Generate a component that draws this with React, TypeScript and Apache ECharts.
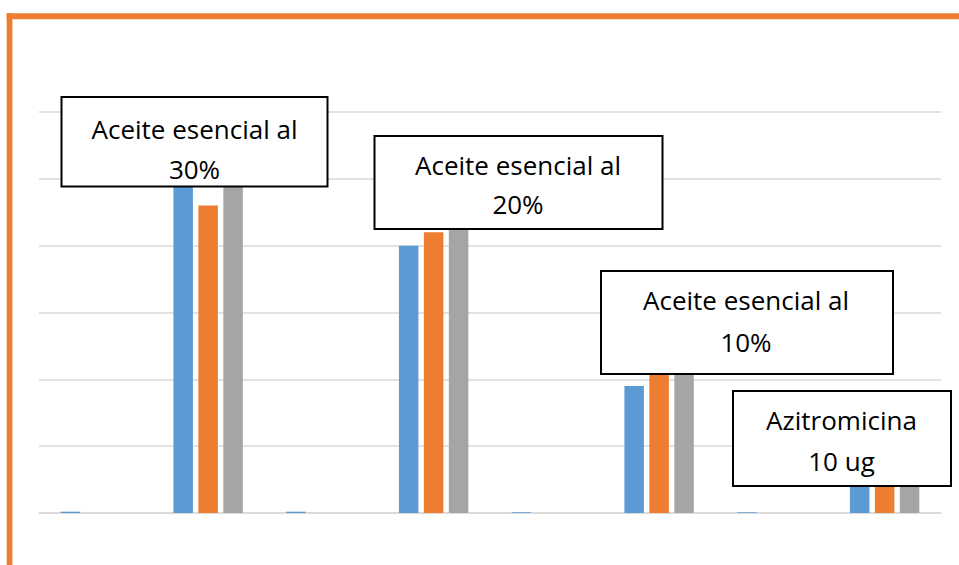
import React, { useEffect, useRef } from "react";
import * as echarts from "echarts";

// Inhibition readings per treatment, three replicates each
const categories = [
  "Control 1",
  "Aceite esencial al\n30%",
  "Control 2",
  "Aceite esencial al\n20%",
  "Control 3",
  "Aceite esencial al\n10%",
  "Control 4",
  "Azitromicina\n10 ug",
];
const seriesNames = ["Repetición 1", "Repetición 2", "Repetición 3"];
const rep1 = [0.1, 24.6, 0.1, 20.0, 0.05, 9.5, 0.05, 2.6];
const rep2 = [0, 23.0, 0, 21.0, 0, 10.5, 0, 2.8];
const rep3 = [0, 25.0, 0, 22.0, 0, 10.5, 0, 2.8];
const colors = ["#5B9BD5", "#ED7D31", "#A5A5A5"];

// Callout boxes placed over the labelled groups (index into categories)
const callouts = [
  { cat: 1, box: [61.5, 97, 266, 89.5], cx: 194.5, lines: [129, 169] },
  { cat: 3, box: [374.5, 136, 288, 93], cx: 518, lines: [164.5, 204] },
  { cat: 5, box: [601, 271, 292, 103], cx: 746, lines: [300, 341.5] },
  { cat: 7, box: [733, 391, 218, 95], cx: 841.5, lines: [420, 461] },
];

export default function App() {
  const ref = useRef<HTMLDivElement>(null);

  useEffect(() => {
    if (!ref.current) return;
    const chart = echarts.init(ref.current, undefined, { renderer: "svg" });

    const graphic: any[] = [
      // orange frame edges
      {
        type: "rect",
        shape: { x: 6.7, y: 13.3, width: 960, height: 6 },
        style: { fill: "#ED7D31" },
        z: 10,
      },
      {
        type: "rect",
        shape: { x: 6.7, y: 13.3, width: 5.7, height: 560 },
        style: { fill: "#ED7D31" },
        z: 10,
      },
    ];

    callouts.forEach((c) => {
      const [x, y, w, h] = c.box;
      const textLines = categories[c.cat].split("\n");
      graphic.push({
        type: "rect",
        shape: { x, y, width: w, height: h },
        style: { fill: "#FFFFFF", stroke: "#000000", lineWidth: 2 },
        z: 20,
      });
      textLines.forEach((t, i) => {
        graphic.push({
          type: "text",
          x: c.cx,
          y: c.lines[i],
          style: {
            text: t,
            fill: "#000000",
            font: "26px 'Open Sans'",
            align: "center",
            verticalAlign: "middle",
          },
          z: 21,
        });
      });
    });

    const data = [rep1, rep2, rep3];

    chart.setOption({
      animation: false,
      backgroundColor: "#FFFFFF",
      grid: { left: 39, right: 18, top: 112, bottom: 52, containLabel: false },
      xAxis: {
        type: "category",
        data: categories,
        axisLine: { show: true, lineStyle: { color: "#D9D9D9", width: 1.5 } },
        axisTick: { show: false },
        axisLabel: { show: false },
      },
      yAxis: {
        type: "value",
        min: 0,
        max: 30,
        interval: 5,
        axisLine: { show: false },
        axisTick: { show: false },
        axisLabel: { show: false },
        splitLine: { lineStyle: { color: "#D9D9D9", width: 1.5 } },
      },
      series: seriesNames.map((name, i) => ({
        name,
        type: "bar",
        data: data[i],
        barWidth: 19.5,
        barGap: "28%",
        itemStyle: { color: colors[i] },
      })),
      graphic,
    });

    return () => chart.dispose();
  }, []);

  return (
    <div
      ref={ref}
      style={{ position: "fixed", left: 0, top: 0, width: 959, height: 565 }}
    />
  );
}
